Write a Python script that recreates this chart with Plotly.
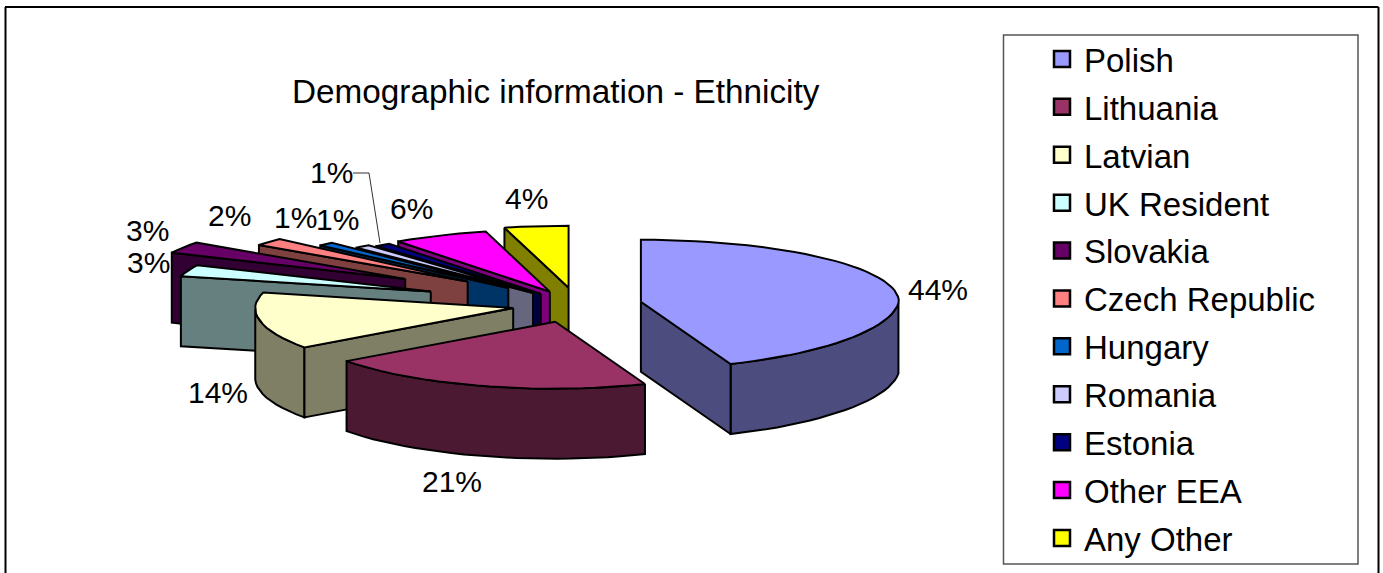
import math
import plotly.graph_objects as go

# ---- data ----
categories = ["Polish", "Lithuania", "Latvian", "UK Resident", "Slovakia", "Czech Republic",
              "Hungary", "Romania", "Estonia", "Other EEA", "Any Other"]
percent_values = [44, 21, 14, 3, 3, 2, 1, 1, 1, 6, 4]
slice_colors = ["#9999FF", "#993366", "#FFFFCC", "#CCFFFF", "#660066", "#FF8080",
                "#0066CC", "#CCCCFF", "#000080", "#FF00FF", "#FFFF00"]
# explosion of every slice as a share of the radius, plus a small sideways correction
slice_pull = [0.26, 0.26, 0.24, 0.59, 0.76, 0.55, 0.36, 0.24, 0.21, 0.22, 0.26]
slice_nudge = [1, 0, 0, 0, 0, 3, 0, 0, 0, 0, 3]
draw_order = [10, 9, 8, 7, 6, 5, 4, 3, 2, 0, 1]

# ---- label placement (paper pixels) ----
label_px = [(938, 289), (452, 481), (218, 392), (148, 262), (147, 231), (229, 216),
            (295, 218), (337, 219), (331, 172), (411, 208), (526, 198)]

W, H = 1383, 573
CX, CY, RX, RY_FRONT = 574, 305, 258, 67
BACK = 62 / 67
DEPTH = 70 / RY_FRONT


def shade(c):
    return "#%02X%02X%02X" % tuple(int(c[i:i + 2], 16) // 2 for i in (1, 3, 5))


def rim(t):
    s, c = math.sin(t), math.cos(t)
    if s > 0 and c < 0:
        s *= 1 + 0.06 * c
    return s, c * (BACK if c > 0 else 1.0)


fig = go.Figure()

# legend entries
for name, col in zip(categories, slice_colors):
    fig.add_trace(go.Scatter(x=[None], y=[None], mode="markers", name=name, legendgroup=name,
                             marker=dict(symbol="square", size=18, color=col,
                                         line=dict(color="black", width=2.5))))

total = sum(percent_values)
starts, acc = [], 0
for v in percent_values:
    starts.append(acc / total * 2 * math.pi)
    acc += v


def poly(xs, ys, color, name):
    fig.add_trace(go.Scatter(x=xs + xs[:1], y=ys + ys[:1], mode="lines", fill="toself",
                             fillcolor=color, line=dict(color="black", width=2),
                             legendgroup=name, showlegend=False, hoverinfo="skip"))


for i in draw_order:
    t0 = starts[i]
    t1 = t0 + percent_values[i] / total * 2 * math.pi
    tm = (t0 + t1) / 2
    mx, my = rim(tm)
    ax = slice_pull[i] * math.sin(tm) + slice_nudge[i] / RX
    ay = slice_pull[i] * math.cos(tm)
    top = slice_colors[i]
    side = shade(top)
    n = max(4, int((t1 - t0) / math.radians(3)))
    ts = [t0 + (t1 - t0) * j / n for j in range(n + 1)]
    # outer wall, front half only
    front = [t for t in ts if math.cos(t) <= 0]
    if len(front) > 1:
        xs = [ax + rim(t)[0] for t in front]
        ys = [ay + rim(t)[1] for t in front]
        poly(xs + xs[::-1], ys + [y - DEPTH for y in ys[::-1]], side, categories[i])
    # cut faces that look toward the viewer
    for t in (t0, t1):
        dx, dy = rim(t)
        if abs(dx) < 1e-6:
            continue
        if my > dy * mx / dx:
            ex, ey = ax + dx, ay + dy
            poly([ax, ex, ex, ax], [ay, ey, ey - DEPTH, ay - DEPTH], side, categories[i])
    # top face
    xs = [ax] + [ax + rim(t)[0] for t in ts]
    ys = [ay] + [ay + rim(t)[1] for t in ts]
    poly(xs, ys, top, categories[i])

shapes = [
    dict(type="line", xref="paper", yref="paper", x0=5.5 / W, x1=5.5 / W, y0=0, y1=1 - 7 / H,
         line=dict(color="black", width=2)),
    dict(type="line", xref="paper", yref="paper", x0=5 / W, x1=1378.5 / W, y0=1 - 7 / H, y1=1 - 7 / H,
         line=dict(color="black", width=2)),
    dict(type="line", xref="paper", yref="paper", x0=1378.5 / W, x1=1378.5 / W, y0=0, y1=1 - 7 / H,
         line=dict(color="black", width=2)),
    dict(type="rect", xref="paper", yref="paper", x0=1003.5 / W, x1=1358 / W, y0=1 - 564 / H, y1=1 - 35 / H,
         line=dict(color="#555555", width=1.5), layer="below"),
    dict(type="line", xref="paper", yref="paper", x0=353 / W, x1=369 / W, y0=1 - 173 / H, y1=1 - 173 / H,
         line=dict(color="#333333", width=1)),
    dict(type="line", xref="paper", yref="paper", x0=369 / W, x1=380 / W, y0=1 - 173 / H, y1=1 - 243 / H,
         line=dict(color="#333333", width=1)),
]

annotations = [dict(text="Demographic information - Ethnicity", xref="paper", yref="paper",
                    x=556 / W, y=1 - 91 / H, showarrow=False, xanchor="center", yanchor="middle",
                    font=dict(size=33.3, color="black"))]
for v, (px, py) in zip(percent_values, label_px):
    annotations.append(dict(text=f"{v}%", xref="paper", yref="paper", x=px / W, y=1 - py / H,
                            showarrow=False, xanchor="center", yanchor="middle",
                            font=dict(size=30, color="black")))

fig.update_layout(
    width=W, height=H, margin=dict(l=0, r=0, t=0, b=0), autosize=False,
    paper_bgcolor="white", plot_bgcolor="white",
    font=dict(family="Liberation Sans, Arial, sans-serif"),
    xaxis=dict(range=[-CX / RX, (W - CX) / RX], visible=False, fixedrange=True),
    yaxis=dict(range=[-(H - CY) / RY_FRONT, CY / RY_FRONT], visible=False, fixedrange=True),
    shapes=shapes, annotations=annotations,
    legend=dict(x=1040 / W, y=1 - 31 / H, xanchor="left", yanchor="top", bgcolor="rgba(0,0,0,0)",
                font=dict(size=33, color="black"), tracegroupgap=2, itemsizing="trace", itemwidth=34,
                itemclick=False, itemdoubleclick=False, maxheight=572),
)
fig.write_html("out.html", post_script="document.body.style.margin='0';", config=dict(displayModeBar=False))
